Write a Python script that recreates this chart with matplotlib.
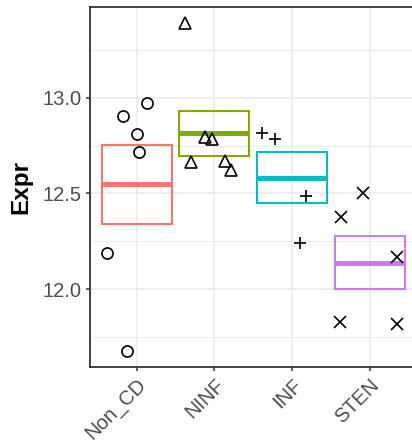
import matplotlib
matplotlib.use("Agg")
import matplotlib.pyplot as plt
from matplotlib.ticker import MultipleLocator
import numpy as np

plt.rcParams['font.family'] = ['Liberation Sans', 'DejaVu Sans']

categories = ["Non_CD", "NINF", "INF", "STEN"]
colors = ["#F8766D", "#7CAE00", "#00BFC4", "#C77CFF"]
markers = ["o", "^", "+", "x"]

# jittered x positions and expression values of points
pts_x = [
    [1.129, 0.820, 1.004, 1.026, 0.622, 0.871],
    [1.625, 1.878, 1.972, 1.694, 2.135, 2.212],
    [2.611, 2.778, 3.180, 3.103],
    [3.914, 3.626, 4.350, 3.613, 4.350],
]
pts_y = [
    [12.975, 12.906, 12.813, 12.716, 12.187, 11.675],
    [13.394, 12.794, 12.787, 12.663, 12.669, 12.623],
    [12.815, 12.784, 12.488, 12.242],
    [12.501, 12.375, 12.169, 11.829, 11.817],
]

# crossbar summaries
box_mid = [12.548, 12.817, 12.583, 12.138]
box_lo = [12.340, 12.698, 12.450, 12.000]
box_hi = [12.752, 12.934, 12.716, 12.277]

fig = plt.figure(figsize=(4.12, 4.44), dpi=100)
ax = fig.add_axes([90/412, 77/444, (416.6-90)/412, (367-7)/444])

ax.set_xlim(0.4, 4.6)
ax.set_ylim(11.592, 13.476)

# grid
ax.set_axisbelow(True)
ax.yaxis.set_major_locator(MultipleLocator(0.5))
ax.yaxis.set_minor_locator(MultipleLocator(0.25))
ax.grid(which='major', color='#EBEBEB', linewidth=1.2)
ax.grid(which='minor', axis='y', color='#EBEBEB', linewidth=0.7)

w = 0.45
for i, c in enumerate(colors):
    xc = i + 1
    ax.add_patch(plt.Rectangle((xc - w, box_lo[i]), 2*w, box_hi[i]-box_lo[i],
                               fill=False, edgecolor=c, linewidth=1.5, zorder=2))
    ax.plot([xc - w, xc + w], [box_mid[i], box_mid[i]], color=c,
            linewidth=3.6, solid_capstyle='butt', zorder=2)

for i, m in enumerate(markers):
    if m in ('o', '^'):
        ax.plot(pts_x[i], pts_y[i], linestyle='none', marker=m, markersize=8,
                markerfacecolor='none', markeredgecolor='black', markeredgewidth=1.2, zorder=3)
    else:
        ax.plot(pts_x[i], pts_y[i], linestyle='none', marker=m, markersize=8,
                color='black', markeredgewidth=1.2, zorder=3)

ax.set_xticks(range(1, 5))
ax.set_xticklabels(categories, rotation=45, ha='right', rotation_mode='anchor')
ax.set_yticks([12.0, 12.5, 13.0])
ax.set_yticklabels(["12.0", "12.5", "13.0"])
ax.tick_params(axis='both', which='major', length=3, width=1.1, color='#333333',
               labelsize=14.5, labelcolor='#4D4D4D', pad=3)
ax.tick_params(axis='y', which='minor', length=0)
ax.set_ylabel("Expr", fontsize=17.5, fontweight='bold', labelpad=7)

for s in ax.spines.values():
    s.set_color('#333333')
    s.set_linewidth(1.3)

fig.savefig("out.png", dpi=100)
